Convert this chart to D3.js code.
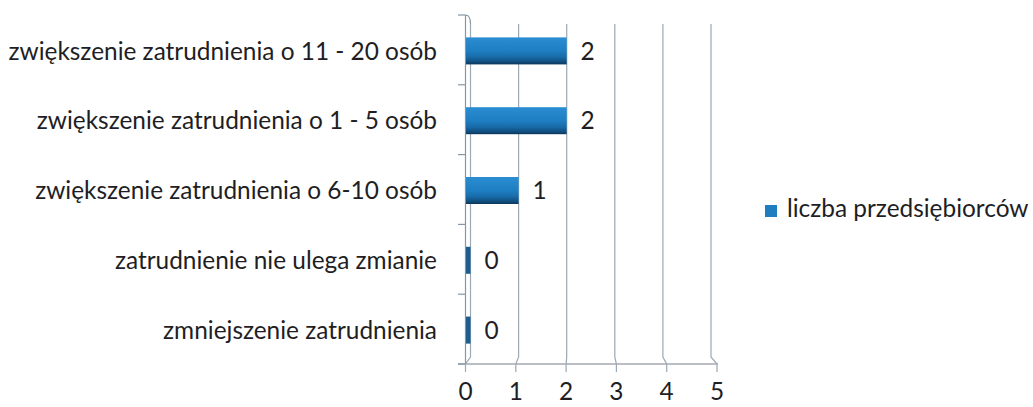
<!DOCTYPE html>
<html>
<head>
<meta charset="utf-8">
<script src="https://cdn.jsdelivr.net/npm/d3@7"></script>
<style>
  body { margin: 0; background: #fff; }
  text { font-family: Lato, "Open Sans", sans-serif; fill: #1e1e24; }
</style>
</head>
<body>
<script>
var width = 1033,
    height = 407;

// data
var categories = ["zwiększenie zatrudnienia o 11 - 20 osób",
                  "zwiększenie zatrudnienia o 1 - 5 osób",
                  "zwiększenie zatrudnienia o 6-10 osób",
                  "zatrudnienie nie ulega zmianie",
                  "zmniejszenie zatrudnienia"];
var values = [2, 2, 1, 0, 0];
var ticks = [0, 1, 2, 3, 4, 5];
var seriesName = "liczba przedsiębiorców";

var fontSize = 24.4;

var svg = d3.select("body").append("svg")
    .attr("width", width)
    .attr("height", height);

var defs = svg.append("defs");
var grad = defs.append("linearGradient")
    .attr("id", "barGrad")
    .attr("x1", 0).attr("y1", 0).attr("x2", 0).attr("y2", 1);
grad.append("stop").attr("offset", "0%").attr("stop-color", "#2b8dd2");
grad.append("stop").attr("offset", "50%").attr("stop-color", "#1e7ec2");
grad.append("stop").attr("offset", "72%").attr("stop-color", "#186ca9");
grad.append("stop").attr("offset", "90%").attr("stop-color", "#114f80");
grad.append("stop").attr("offset", "100%").attr("stop-color", "#0c3659");

// back wall scale (bars, gridlines) and floor front scale (ticks, labels)
var xBack = d3.scaleLinear().domain([0, 5]).range([470.5, 711]);
var xFront = d3.scaleLinear().domain([0, 5]).range([465.5, 717]);

var y = d3.scaleBand()
    .domain(categories)
    .range([15, 364])
    .paddingInner(0)
    .paddingOuter(0);

var wallTop = 24,
    floorBack = 357,
    floorFront = 364,
    barH = 27;

var gridColor = "#9aa9b5";

// gridlines with the 3D kink at the floor
svg.append("g").selectAll("path")
    .data(ticks)
    .enter().append("path")
      .attr("d", function(d) {
        return "M" + xBack(d) + "," + wallTop + " L" + xBack(d) + "," + floorBack +
               " L" + xFront(d) + "," + floorFront + " L" + xFront(d) + "," + (floorFront + 8);
      })
      .attr("fill", "none")
      .attr("stroke", gridColor)
      .attr("stroke-width", 1.2);

// left side wall
svg.append("path")
    .attr("d", "M465.5,15 L465.5," + floorFront + " M465.5,15 Q470.5,15 470.5," + wallTop)
    .attr("fill", "none")
    .attr("stroke", "#8796a2")
    .attr("stroke-width", 1.2);

// floor front edge
svg.append("line")
    .attr("x1", 458).attr("x2", xFront(5) + 1)
    .attr("y1", floorFront).attr("y2", floorFront)
    .attr("stroke", "#a6a9b2")
    .attr("stroke-width", 1.4);

// category ticks
var bounds = categories.map(function(c) { return y(c); }).concat([floorFront]);
svg.append("g").selectAll("line")
    .data(bounds)
    .enter().append("line")
      .attr("x1", 458).attr("x2", 465.5)
      .attr("y1", function(d) { return d; })
      .attr("y2", function(d) { return d; })
      .attr("stroke", "#8796a2")
      .attr("stroke-width", 1.2);

// bars
svg.append("g").selectAll("rect")
    .data(values)
    .enter().append("rect")
      .attr("x", 466)
      .attr("y", function(d, i) { return y(categories[i]) + y.bandwidth() / 2 + 1 - barH / 2; })
      .attr("width", function(d) { return xBack(d) - 466; })
      .attr("height", barH)
      .attr("fill", function(d) { return d == 0 ? "#1b5e8e" : "url(#barGrad)"; });

// value labels
svg.append("g").selectAll("text")
    .data(values)
    .enter().append("text")
      .attr("x", function(d) { return xBack(d) + 21; })
      .attr("y", function(d, i) { return y(categories[i]) + y.bandwidth() / 2 + 1; })
      .attr("dy", "0.36em")
      .attr("text-anchor", "middle")
      .attr("font-size", fontSize)
      .text(function(d) { return d; });

// category labels
svg.append("g").selectAll("text")
    .data(categories)
    .enter().append("text")
      .attr("x", 437)
      .attr("y", function(d) { return y(d) + y.bandwidth() / 2 + 1; })
      .attr("dy", "0.36em")
      .attr("text-anchor", "end")
      .attr("font-size", fontSize)
      .text(function(d) { return d; });

// x tick labels
svg.append("g").selectAll("text")
    .data(ticks)
    .enter().append("text")
      .attr("x", function(d) { return xFront(d); })
      .attr("y", 400)
      .attr("text-anchor", "middle")
      .attr("font-size", fontSize)
      .text(function(d) { return d; });

// legend
svg.append("rect")
    .attr("x", 765).attr("y", 205)
    .attr("width", 12).attr("height", 12)
    .attr("fill", "#1f7dc0");

svg.append("text")
    .attr("x", 787)
    .attr("y", 217)
    .attr("font-size", fontSize)
    .text(seriesName);
</script>
</body>
</html>
